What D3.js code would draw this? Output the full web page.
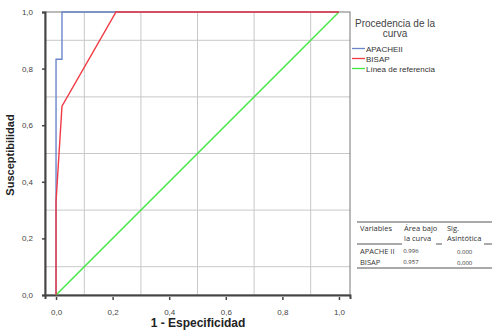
<!DOCTYPE html>
<html>
<head>
<meta charset="utf-8">
<script src="https://cdn.jsdelivr.net/npm/d3@7"></script>
<style>
  body { margin: 0; background: #fff; }
  svg { display: block; font-family: "Liberation Sans", Arial, sans-serif; }
</style>
</head>
<body>
<div id="chart"></div>
<script>
// ROC curve data
const apacheX = [0, 0, 0.021, 0.021, 1];
const apacheY = [0, 0.833, 0.833, 1, 1];
const bisapX = [0, 0, 0.021, 0.212, 1];
const bisapY = [0, 0.33, 0.667, 1, 1];
const refX = [0, 1];
const refY = [0, 1];

const tickValues = [0, 0.2, 0.4, 0.6, 0.8, 1.0];
const gridValues = [0.1, 0.3, 0.5, 0.7, 0.9];

const legendNames = ["APACHEII", "BISAP", "Línea de referencia"];
const legendColors = ["#6a86c8", "#f03a44", "#3ee83e"];

const tableHeader = [["Variables"], ["Área bajo", "la curva"], ["Sig.", "Asintótica"]];
const tableRows = [["APACHE II", "0.996", "0.000"], ["BISAP", "0.957", "0,000"]];

const W = 500, H = 334;
const plot = { left: 45, right: 350, top: 12, bottom: 295 };

const svg = d3.select("#chart").append("svg")
  .attr("width", W).attr("height", H);

const x = d3.scaleLinear().domain([-0.039, 1.039]).range([plot.left, plot.right]);
const y = d3.scaleLinear().domain([0, 1]).range([plot.bottom, plot.top]);

// grid
svg.append("g").selectAll("line.gx").data(gridValues).join("line")
  .attr("x1", d => x(d)).attr("x2", d => x(d))
  .attr("y1", plot.top).attr("y2", plot.bottom)
  .attr("stroke", "#c8c8c8").attr("stroke-width", 1);
svg.append("g").selectAll("line.gy").data(gridValues).join("line")
  .attr("y1", d => y(d)).attr("y2", d => y(d))
  .attr("x1", plot.left).attr("x2", plot.right)
  .attr("stroke", "#c8c8c8").attr("stroke-width", 1);

// frame
svg.append("rect")
  .attr("x", plot.left).attr("y", plot.top)
  .attr("width", plot.right - plot.left).attr("height", plot.bottom - plot.top)
  .attr("fill", "none").attr("stroke", "#777").attr("stroke-width", 1);

// axes
const fmt = d => d3.format(".1f")(d).replace(".", ",");
const xAxis = svg.append("g")
  .attr("transform", `translate(0,${plot.bottom})`)
  .call(d3.axisBottom(x).tickValues(tickValues).tickFormat(fmt).tickSize(4).tickPadding(10));
const yAxis = svg.append("g")
  .attr("transform", `translate(${plot.left},0)`)
  .call(d3.axisLeft(y).tickValues(tickValues).tickFormat(fmt).tickSize(3).tickPadding(9));

[xAxis, yAxis].forEach(a => {
  a.select(".domain").attr("stroke", "#444").attr("stroke-width", 2);
  a.selectAll(".tick line").attr("stroke", "#444").attr("stroke-width", 1.5);
  a.selectAll(".tick text").attr("fill", "#444").style("font-size", "8px")
    .style("font-family", "'Liberation Sans', Arial, sans-serif");
});
xAxis.selectAll(".tick line").attr("y1", 2).attr("y2", 5);

// curves
const line = d3.line().x(d => x(d[0])).y(d => y(d[1]));
const series = [
  { xs: refX, ys: refY, color: legendColors[2] },
  { xs: apacheX, ys: apacheY, color: legendColors[0] },
  { xs: bisapX, ys: bisapY, color: legendColors[1] }
];
series.forEach(s => {
  svg.append("path")
    .datum(s.xs.map((v, i) => [v, s.ys[i]]))
    .attr("d", line)
    .attr("fill", "none")
    .attr("stroke", s.color)
    .attr("stroke-width", 1.4);
});

// axis titles
svg.append("text")
  .attr("x", 198).attr("y", 327)
  .attr("text-anchor", "middle")
  .style("font-size", "12px").style("font-weight", "bold").attr("fill", "#222")
  .text("1 - Especificidad");
svg.append("text")
  .attr("transform", "translate(14,155) rotate(-90)")
  .attr("text-anchor", "middle")
  .style("font-size", "11px").style("font-weight", "bold").attr("fill", "#222")
  .text("Susceptibilidad");

// legend
const leg = svg.append("g");
leg.append("text").attr("x", 395).attr("y", 27).attr("text-anchor", "middle")
  .style("font-size", "10px").attr("fill", "#444").text("Procedencia de la");
leg.append("text").attr("x", 395).attr("y", 37).attr("text-anchor", "middle")
  .style("font-size", "10px").attr("fill", "#444").text("curva");
legendNames.forEach((n, i) => {
  const ly = 48.5 + i * 10;
  leg.append("line").attr("x1", 352).attr("x2", 365).attr("y1", ly).attr("y2", ly)
    .attr("stroke", legendColors[i]).attr("stroke-width", 1.3);
  leg.append("text").attr("x", 366).attr("y", ly + 3)
    .style("font-size", "8px").attr("fill", "#333").text(n);
});

// stats table
const tbl = svg.append("g").style("font-family", "'Open Sans', Lato, sans-serif").attr("fill", "#333");
const colX = [360, 404, 447];
tbl.append("line").attr("x1", 357).attr("x2", 492).attr("y1", 222).attr("y2", 222)
  .attr("stroke", "#555").attr("stroke-width", 1);
tableHeader.forEach((lines, c) => {
  lines.forEach((t, r) => {
    tbl.append("text").attr("x", colX[c]).attr("y", 231 + r * 10)
      .style("font-size", "7.5px").text(t);
  });
});
[[357, 402], [436, 442], [484, 492]].forEach(seg => {
  tbl.append("line").attr("x1", seg[0]).attr("x2", seg[1]).attr("y1", 244).attr("y2", 244)
    .attr("stroke", "#555").attr("stroke-width", 1);
});
tableRows.forEach((row, r) => {
  const ry = 253.5 + r * 11.5;
  tbl.append("text").attr("x", 360).attr("y", ry).style("font-size", "7.5px").text(row[0]);
  tbl.append("text").attr("x", 411).attr("y", ry - 1).attr("text-anchor", "middle")
    .style("font-size", "6px").text(row[1]);
  tbl.append("text").attr("x", 457).attr("y", ry).style("font-size", "6px").text(row[2]);
});
tbl.append("line").attr("x1", 357).attr("x2", 492).attr("y1", 268).attr("y2", 268)
  .attr("stroke", "#555").attr("stroke-width", 1);
</script>
</body>
</html>
